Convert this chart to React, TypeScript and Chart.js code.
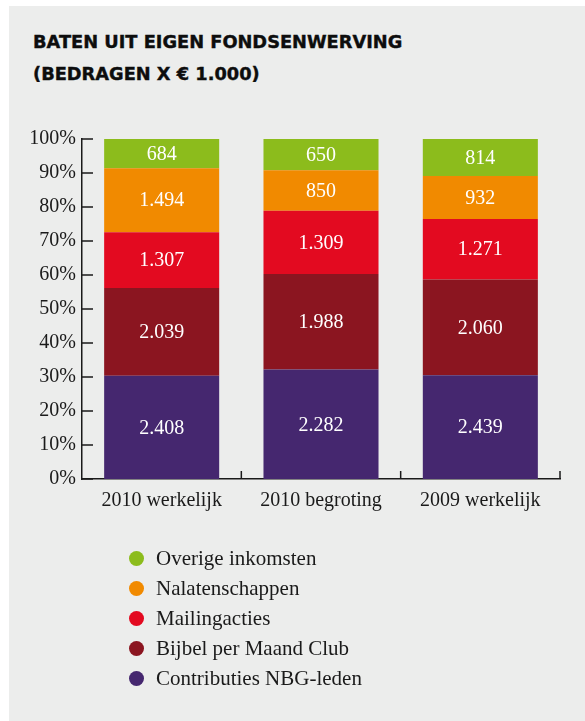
import React, { useEffect, useRef } from "react";
import { Chart, registerables } from "chart.js";

Chart.register(...registerables);

const titleLines = ["BATEN UIT EIGEN FONDSENWERVING", "(BEDRAGEN X € 1.000)"];
const categories = ["2010 werkelijk", "2010 begroting", "2009 werkelijk"];
const seriesNames = [
  "Contributies NBG-leden",
  "Bijbel per Maand Club",
  "Mailingacties",
  "Nalatenschappen",
  "Overige inkomsten",
];
// amounts (x € 1.000) printed in the segments
const contributies = [2408, 2282, 2439];
const bijbelPerMaand = [2039, 1988, 2060];
const mailingacties = [1307, 1309, 1271];
const nalatenschappen = [1494, 850, 932];
const overige = [684, 650, 814];
// segment heights (% of bar) as drawn in the picture
const contributiesPct = [30.4, 32.2, 30.5];
const bijbelPerMaandPct = [25.8, 28.1, 28.2];
const mailingactiesPct = [16.4, 18.6, 17.8];
const nalatenschappenPct = [18.8, 11.9, 12.6];
const overigePct = [8.6, 9.2, 10.9];

const seriesColors = ["#45276f", "#8b1520", "#e30a20", "#f18a00", "#8cbc1c"];
const yTickValues = [0, 10, 20, 30, 40, 50, 60, 70, 80, 90, 100];

const seriesValues = [contributies, bijbelPerMaand, mailingacties, nalatenschappen, overige];
const seriesPct = [contributiesPct, bijbelPerMaandPct, mailingactiesPct, nalatenschappenPct, overigePct];

const SERIF = "'Liberation Serif', 'Times New Roman', serif";
const INK = "#1a1a1a";

function formatNl(v: number): string {
  const s = String(Math.round(v));
  return s.replace(/\B(?=(\d{3})+(?!\d))/g, ".");
}

const valueLabelPlugin = {
  id: "valueLabels",
  afterDatasetsDraw(chart: any) {
    const ctx = chart.ctx;
    ctx.save();
    ctx.fillStyle = "#ffffff";
    ctx.font = `20px ${SERIF}`;
    ctx.textAlign = "center";
    ctx.textBaseline = "middle";
    chart.data.datasets.forEach((ds: any, di: number) => {
      const meta = chart.getDatasetMeta(di);
      meta.data.forEach((el: any, i: number) => {
        const raw = ds.rawValues[i];
        const cy = (el.y + el.base) / 2;
        ctx.fillText(formatNl(raw), el.x, cy + 1);
      });
    });
    ctx.restore();
  },
};

const innerTicksPlugin = {
  id: "innerTicks",
  afterDraw(chart: any) {
    const ctx = chart.ctx;
    const xs = chart.scales.x;
    const ys = chart.scales.y;
    const area = chart.chartArea;
    ctx.save();
    ctx.strokeStyle = INK;
    ctx.lineWidth = 1.5;
    ctx.beginPath();
    yTickValues.forEach((v) => {
      const py = ys.getPixelForValue(v);
      ctx.moveTo(area.left, py);
      ctx.lineTo(area.left + 11, py);
    });
    const n = categories.length;
    const c0 = xs.getPixelForTick(0);
    const c1 = n > 1 ? xs.getPixelForTick(1) : area.right;
    const half = (c1 - c0) / 2;
    for (let i = 0; i < n; i++) {
      const bx = xs.getPixelForTick(i) + half;
      ctx.moveTo(bx, area.bottom);
      ctx.lineTo(bx, area.bottom - 8);
    }
    ctx.stroke();
    ctx.restore();
  },
};

export default function App() {
  const canvasRef = useRef<HTMLCanvasElement | null>(null);

  useEffect(() => {
    if (!canvasRef.current) return;
    const chart = new Chart(canvasRef.current, {
      type: "bar",
      data: {
        labels: categories,
        datasets: seriesNames.map((name, si) => ({
          label: name,
          data: seriesPct[si],
          rawValues: seriesValues[si],
          backgroundColor: seriesColors[si],
          borderWidth: 0,
          barPercentage: 0.722,
          categoryPercentage: 1,
        })) as any,
      },
      options: {
        responsive: false,
        animation: false,
        layout: { padding: { top: 139, left: 0, right: 25, bottom: 202 } },
        plugins: {
          legend: { display: false },
          tooltip: { enabled: false },
          title: { display: false },
        },
        scales: {
          x: {
            stacked: true,
            grid: { display: false, drawTicks: false, tickLength: 0 },
            border: { display: true, color: INK, width: 1.5 },
            ticks: { color: INK, font: { family: SERIF, size: 20 }, padding: 10 },
            afterFit: (scale: any) => {
              scale.height = 40;
            },
          },
          y: {
            stacked: true,
            min: 0,
            max: 100,
            grid: { display: false, drawTicks: false, tickLength: 0 },
            border: { display: true, color: INK, width: 1.5 },
            ticks: {
              stepSize: 10,
              color: INK,
              padding: 6,
              font: { family: SERIF, size: 20 },
              callback: (v: any) => `${v}%`,
            },
            afterFit: (scale: any) => {
              scale.width = 82;
            },
          },
        },
      },
      plugins: [valueLabelPlugin, innerTicksPlugin],
    });
    return () => chart.destroy();
  }, []);

  const legendOrder = seriesNames.map((_, i) => i).reverse();

  return (
    <div style={{ position: "absolute", left: 0, top: 0, width: 585, height: 721, background: "#ffffff", overflow: "hidden" }}>
      <div style={{ position: "absolute", left: 9, top: 6, width: 576, height: 715, background: "#ecedec" }} />
      <div
        style={{
          position: "absolute",
          left: 33,
          top: 26,
          fontFamily: "'DejaVu Sans', sans-serif",
          fontWeight: 700,
          fontSize: 17.8,
          lineHeight: "32px",
          color: "#0d0d0d",
          whiteSpace: "nowrap",
          WebkitTextStroke: "0.4px #0d0d0d",
        }}
      >
        {titleLines.map((t) => (
          <div key={t}>{t}</div>
        ))}
      </div>
      <canvas ref={canvasRef} width={585} height={721} style={{ position: "absolute", left: 0, top: 0 }} />
      <div style={{ position: "absolute", left: 0, top: 543 }}>
        {legendOrder.map((si) => (
          <div key={si} style={{ position: "relative", height: 30 }}>
            <span
              style={{
                position: "absolute",
                left: 129,
                top: 7.5,
                width: 15,
                height: 15,
                borderRadius: "50%",
                background: seriesColors[si],
              }}
            />
            <span
              style={{
                position: "absolute",
                left: 156,
                top: 0,
                lineHeight: "30px",
                fontFamily: SERIF,
                fontSize: 21,
                color: INK,
                whiteSpace: "nowrap",
              }}
            >
              {seriesNames[si]}
            </span>
          </div>
        ))}
      </div>
    </div>
  );
}
